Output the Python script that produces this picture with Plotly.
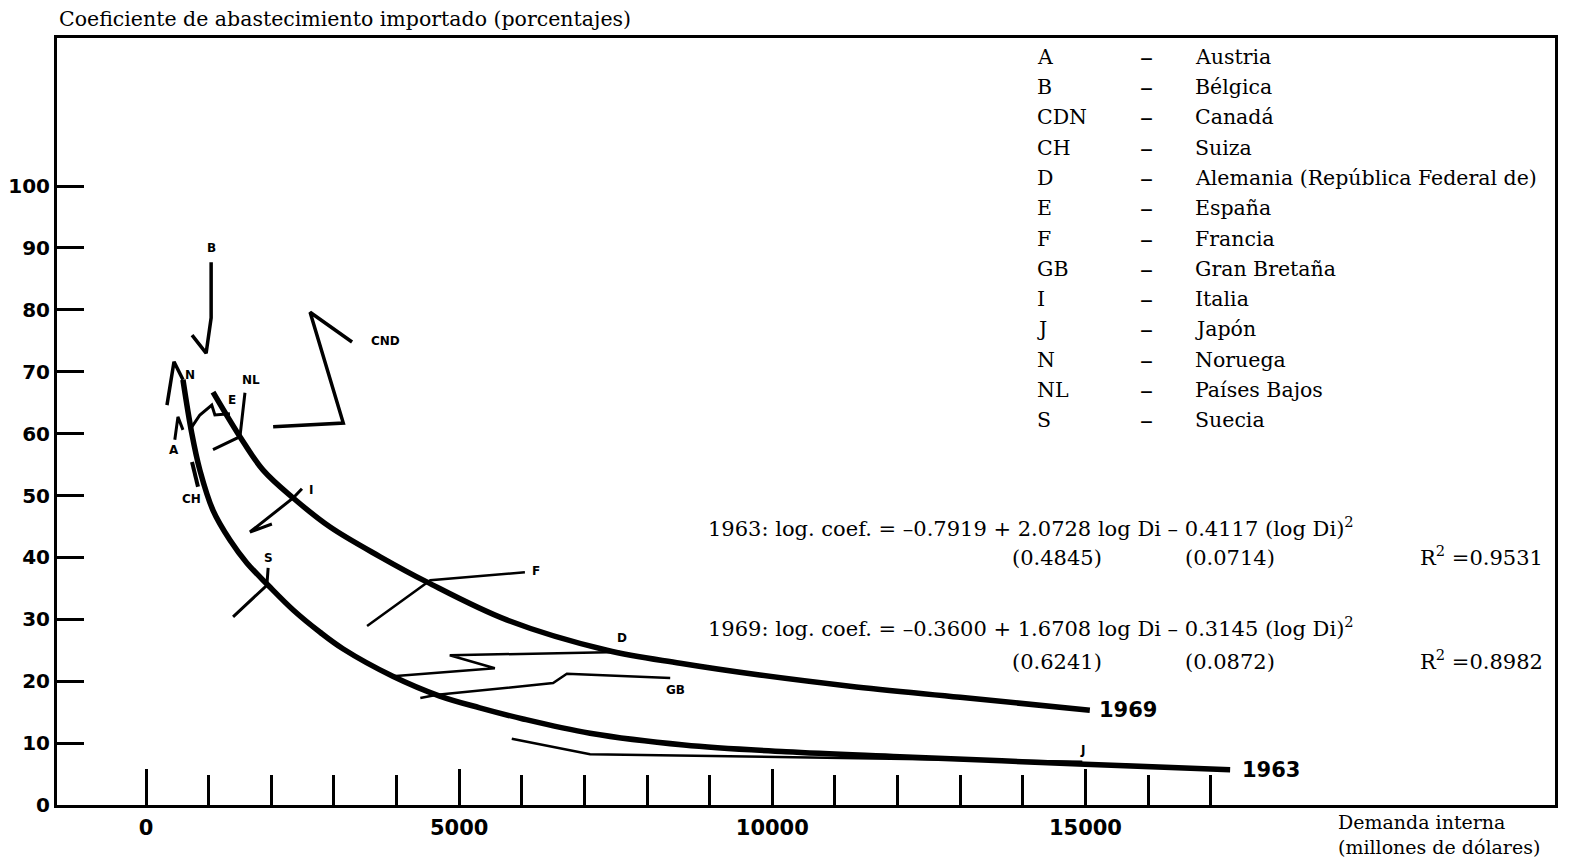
import plotly.graph_objects as go

# ---------------- data ----------------
c1963_x = [590, 730, 860, 1070, 1340, 1610, 1950, 2350, 2780, 3150, 3940, 4690, 5330, 6020, 7090, 8590, 10220, 12040, 14990, 17310]
c1963_y = [68.7, 60.1, 54.1, 47.6, 42.8, 39.1, 35.5, 31.5, 27.9, 25.2, 20.8, 17.6, 15.7, 13.9, 11.6, 9.7, 8.6, 7.8, 6.6, 5.7]
c1969_x = [1070, 1500, 1870, 2350, 2940, 3740, 4490, 5760, 7360, 8530, 9800, 11240, 13000, 15070]
c1969_y = [66.7, 59.5, 54.1, 49.6, 44.9, 40.1, 36.0, 29.9, 25.0, 22.9, 21.0, 19.2, 17.4, 15.3]

a_x, a_y = [460, 510, 590], [59.0, 62.7, 60.6]
b_x, b_y = [735, 960, 1040, 1040], [75.9, 73.0, 78.7, 87.7]
cnd_x, cnd_y = [3290, 2620, 3150, 2030], [74.8, 79.6, 61.7, 61.1]
ch_x, ch_y = [735, 830], [55.4, 51.4]
e_x, e_y = [700, 860, 1050, 1100, 1340], [60.6, 63.0, 64.6, 63.0, 63.2]
nl_x, nl_y = [1580, 1500, 1070], [66.6, 59.5, 57.4]
n_x, n_y = [335, 447, 591], [64.6, 71.6, 68.7]
i_x, i_y = [2490, 2350, 1660, 2010], [51.1, 49.6, 44.1, 45.4]
s_x, s_y = [1950, 1930, 1390], [38.3, 35.5, 30.4]
f_x, f_y = [6050, 4540, 3530], [37.6, 36.3, 28.9]
d_x, d_y = [7570, 4850, 5570, 3940], [24.7, 24.2, 22.1, 20.8]
gb_x, gb_y = [8370, 6720, 6500, 4650, 4380], [20.5, 21.2, 19.7, 17.8, 17.3]
j_x, j_y = [5840, 7090, 14950], [10.7, 8.2, 7.0]

# label anchors for each country path
lab_text = ["B", "CND", "N", "NL", "E", "A", "CH", "I", "S", "F", "D", "GB", "J"]
lab_x = [1038, 3816, 703, 1677, 1373, 447, 719, 2635, 1948, 6227, 7600, 8447, 14945]
lab_y = [90.0, 75.0, 69.5, 68.7, 65.4, 57.4, 49.4, 50.9, 39.9, 37.8, 27.0, 18.6, 8.9]

leg_abbr = ["A", "B", "CDN", "CH", "D", "E", "F", "GB", "I", "J", "N", "NL", "S"]
leg_name = ["Austria", "Bélgica", "Canadá", "Suiza", "Alemania (República Federal de)", "España",
            "Francia", "Gran Bretaña", "Italia", "Japón", "Noruega", "Países Bajos", "Suecia"]

x_major = [0, 5000, 10000, 15000]
x_major_text = ["0", "5000", "10000", "15000"]
x_minor = [1000, 2000, 3000, 4000, 6000, 7000, 8000, 9000, 11000, 12000, 13000, 14000, 16000, 17000]
y_ticks = [0, 10, 20, 30, 40, 50, 60, 70, 80, 90, 100]

# ---------------- figure ----------------
L, R, T, B = 57, 1555, 38, 805
W, H = 1570, 862


def px(xp):
    return (xp - L) / (R - L)


def py(yp):
    return (B - yp) / (B - T)


SERIF = "DejaVu Serif"
SANS = "DejaVu Sans"

fig = go.Figure()

paths = [(a_x, a_y, 3), (b_x, b_y, 3.5), (cnd_x, cnd_y, 3.5), (ch_x, ch_y, 4), (e_x, e_y, 3),
         (nl_x, nl_y, 3), (n_x, n_y, 3.5), (i_x, i_y, 3), (s_x, s_y, 3), (f_x, f_y, 2.5),
         (d_x, d_y, 2.5), (gb_x, gb_y, 2.5), (j_x, j_y, 2.5)]
for xs, ys, w in paths:
    fig.add_trace(go.Scatter(x=xs, y=ys, mode="lines", line=dict(color="black", width=w),
                             showlegend=False, hoverinfo="skip"))

for xs, ys in [(c1963_x, c1963_y), (c1969_x, c1969_y)]:
    fig.add_trace(go.Scatter(x=xs, y=ys, mode="lines",
                             line=dict(color="black", width=5.5, shape="spline", smoothing=1.0),
                             showlegend=False, hoverinfo="skip"))

ann = []
for t, x, y in zip(lab_text, lab_x, lab_y):
    ann.append(dict(x=x, y=y, xref="x", yref="y", text=t, showarrow=False,
                    font=dict(family=SANS, size=12, color="black", weight="bold")))

ann.append(dict(x=c1969_x[-1] + 110, y=c1969_y[-1], xref="x", yref="y", text="1969", showarrow=False,
                xanchor="left", font=dict(family=SANS, size=21, color="black", weight="bold")))
ann.append(dict(x=c1963_x[-1] + 150, y=c1963_y[-1], xref="x", yref="y", text="1963", showarrow=False,
                xanchor="left", font=dict(family=SANS, size=21, color="black", weight="bold")))

sfont = dict(family=SERIF, size=20.5, color="black")
ann.append(dict(x=px(57), y=py(19), xref="paper", yref="paper", xanchor="left", yanchor="middle",
                text="Coeficiente de abastecimiento importado (porcentajes)", showarrow=False, font=sfont))
ann.append(dict(x=px(1336), y=py(834), xref="paper", yref="paper", xanchor="left", yanchor="middle",
                align="left", text="Demanda interna<br>(millones de dólares)", showarrow=False,
                font=dict(family=SERIF, size=19, color="black")))

for k, (ab, nm) in enumerate(zip(leg_abbr, leg_name)):
    yy = py(57 + k * 30.25)
    ann.append(dict(x=px(1035), y=yy, xref="paper", yref="paper", xanchor="left", yanchor="middle",
                    text=ab, showarrow=False, font=sfont))
    ann.append(dict(x=px(1146), y=yy, xref="paper", yref="paper", xanchor="center", yanchor="middle",
                    text="–", showarrow=False, font=dict(family=SERIF, size=26, color="black")))
    ann.append(dict(x=px(1193), y=yy, xref="paper", yref="paper", xanchor="left", yanchor="middle",
                    text=nm, showarrow=False, font=sfont))

efont = dict(family=SERIF, size=21, color="black")
eq = [
    (706, 527, "1963: log. coef. = –0.7919 + 2.0728 log Di – 0.4117 (log Di)<sup>2</sup>"),
    (1010, 558, "(0.4845)"), (1183, 558, "(0.0714)"), (1418, 556, "R<sup>2</sup> =0.9531"),
    (706, 627, "1969: log. coef. = –0.3600 + 1.6708 log Di – 0.3145 (log Di)<sup>2</sup>"),
    (1010, 662, "(0.6241)"), (1183, 662, "(0.0872)"), (1418, 660, "R<sup>2</sup> =0.8982"),
]
for xp, yp, t in eq:
    ann.append(dict(x=px(xp), y=py(yp), xref="paper", yref="paper", xanchor="left", yanchor="middle",
                    text=t, showarrow=False, font=efont))

x0 = (L - 146) / 0.06263
x1 = (R - 146) / 0.06263
y1 = (B - T) / 6.19

fig.update_layout(
    width=W, height=H, autosize=False,
    margin=dict(l=L, r=W - R, t=T, b=H - B, pad=0),
    plot_bgcolor="white", paper_bgcolor="white",
    annotations=ann,
    xaxis=dict(range=[x0, x1], showgrid=False, zeroline=False, automargin=False,
               showline=True, linecolor="black", linewidth=3, mirror=True,
               tickmode="array", tickvals=x_major, ticktext=x_major_text,
               ticks="inside", ticklen=36, tickwidth=2.5, tickcolor="black",
               ticklabelstandoff=2,
               tickfont=dict(family=SANS, size=21, color="black", weight="bold"),
               minor=dict(tickmode="array", tickvals=x_minor, ticks="inside", ticklen=30,
                          tickwidth=2.5, tickcolor="black", showgrid=False)),
    yaxis=dict(range=[0, y1], showgrid=False, zeroline=False, automargin=False,
               showline=True, linecolor="black", linewidth=3, mirror=True,
               tickmode="array", tickvals=y_ticks,
               ticks="inside", ticklen=27, tickwidth=2.5, tickcolor="black",
               ticklabelstandoff=0,
               tickfont=dict(family=SANS, size=20, color="black", weight="bold")),
)

fig.write_html("out.html", config={"displayModeBar": False},
               post_script="document.body.style.margin='0';document.body.style.overflow='hidden';")
